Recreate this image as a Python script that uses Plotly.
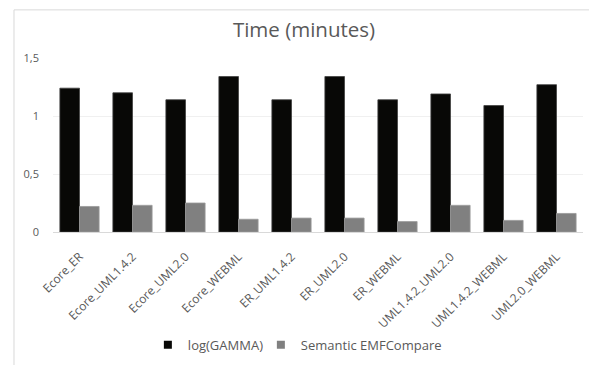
import plotly.graph_objects as go

categories = ["Ecore_ER", "Ecore_UML1.4.2", "Ecore_UML2.0", "Ecore_WEBML", "ER_UML1.4.2",
              "ER_UML2.0", "ER_WEBML", "UML1.4.2_UML2.0", "UML1.4.2_WEBML", "UML2.0_WEBML"]
log_gamma = [1.24, 1.20, 1.14, 1.34, 1.14, 1.34, 1.14, 1.19, 1.09, 1.27]
semantic_emf = [0.22, 0.23, 0.25, 0.11, 0.12, 0.12, 0.09, 0.23, 0.10, 0.16]
series_names = ["log(GAMMA)", "Semantic EMFCompare"]
series_colors = ["#080806", "#808080"]
y_ticks = [0, 0.5, 1, 1.5]
y_tick_labels = ["0", "0,5", "1", "1,5"]

FONT = "'Open Sans', sans-serif"

fig = go.Figure()
fig.add_trace(go.Bar(x=categories, y=log_gamma, name=series_names[0], showlegend=False,
                     marker=dict(color=series_colors[0], line=dict(color="#404040", width=0.8))))
fig.add_trace(go.Bar(x=categories, y=semantic_emf, name=series_names[1], showlegend=False,
                     marker=dict(color=series_colors[1], line=dict(color="#9a9a9a", width=0.8))))
# legend entries with small square swatches
fig.add_trace(go.Scatter(x=[None], y=[None], mode="markers", name=series_names[0], showlegend=True,
                         legendwidth=68,
                         marker=dict(symbol="square", size=8, color=series_colors[0])))
fig.add_trace(go.Scatter(x=[None], y=[None], mode="markers", name=series_names[1], showlegend=True,
                         marker=dict(symbol="square", size=8, color=series_colors[1])))

fig.update_layout(
    width=581, height=357,
    margin=dict(l=45, r=6, t=50, b=128),
    paper_bgcolor="white", plot_bgcolor="white",
    barmode="group", bargap=0.26, bargroupgap=0,
    font=dict(family=FONT, color="#595959", size=11),
    title=dict(text="Time (minutes)", x=0.5095, xanchor="center", y=0.938, yanchor="middle",
               font=dict(family=FONT, size=20.5, color="#595959")),
    legend=dict(orientation="h", x=0.179, xanchor="left", y=-0.648, yanchor="middle",
                font=dict(size=13, color="#595959"), itemwidth=30, tracegroupgap=0),
    showlegend=True,
    xaxis=dict(tickangle=-45, showgrid=False, showline=True, linecolor="#d9d9d9", linewidth=1,
               ticks="", automargin=False, ticklabelstandoff=12,
               tickfont=dict(size=12, color="#595959")),
    yaxis=dict(range=[0, 1.5], tickvals=y_ticks, ticktext=y_tick_labels, showgrid=True,
               gridcolor="#f0f0f0", zeroline=False, showline=False, ticks="", automargin=False,
               ticklabelstandoff=13, tickfont=dict(size=11, color="#595959")),
    shapes=[
        dict(type="line", xref="paper", yref="paper", x0=-0.0736, x1=-0.0736,
             y0=-0.85, y1=1.2765, line=dict(color="#d9d9d9", width=1)),
        dict(type="line", xref="paper", yref="paper", x0=-0.0736, x1=1.02,
             y0=1.2765, y1=1.2765, line=dict(color="#d9d9d9", width=1)),
    ],
)

fig.write_html("out.html")
